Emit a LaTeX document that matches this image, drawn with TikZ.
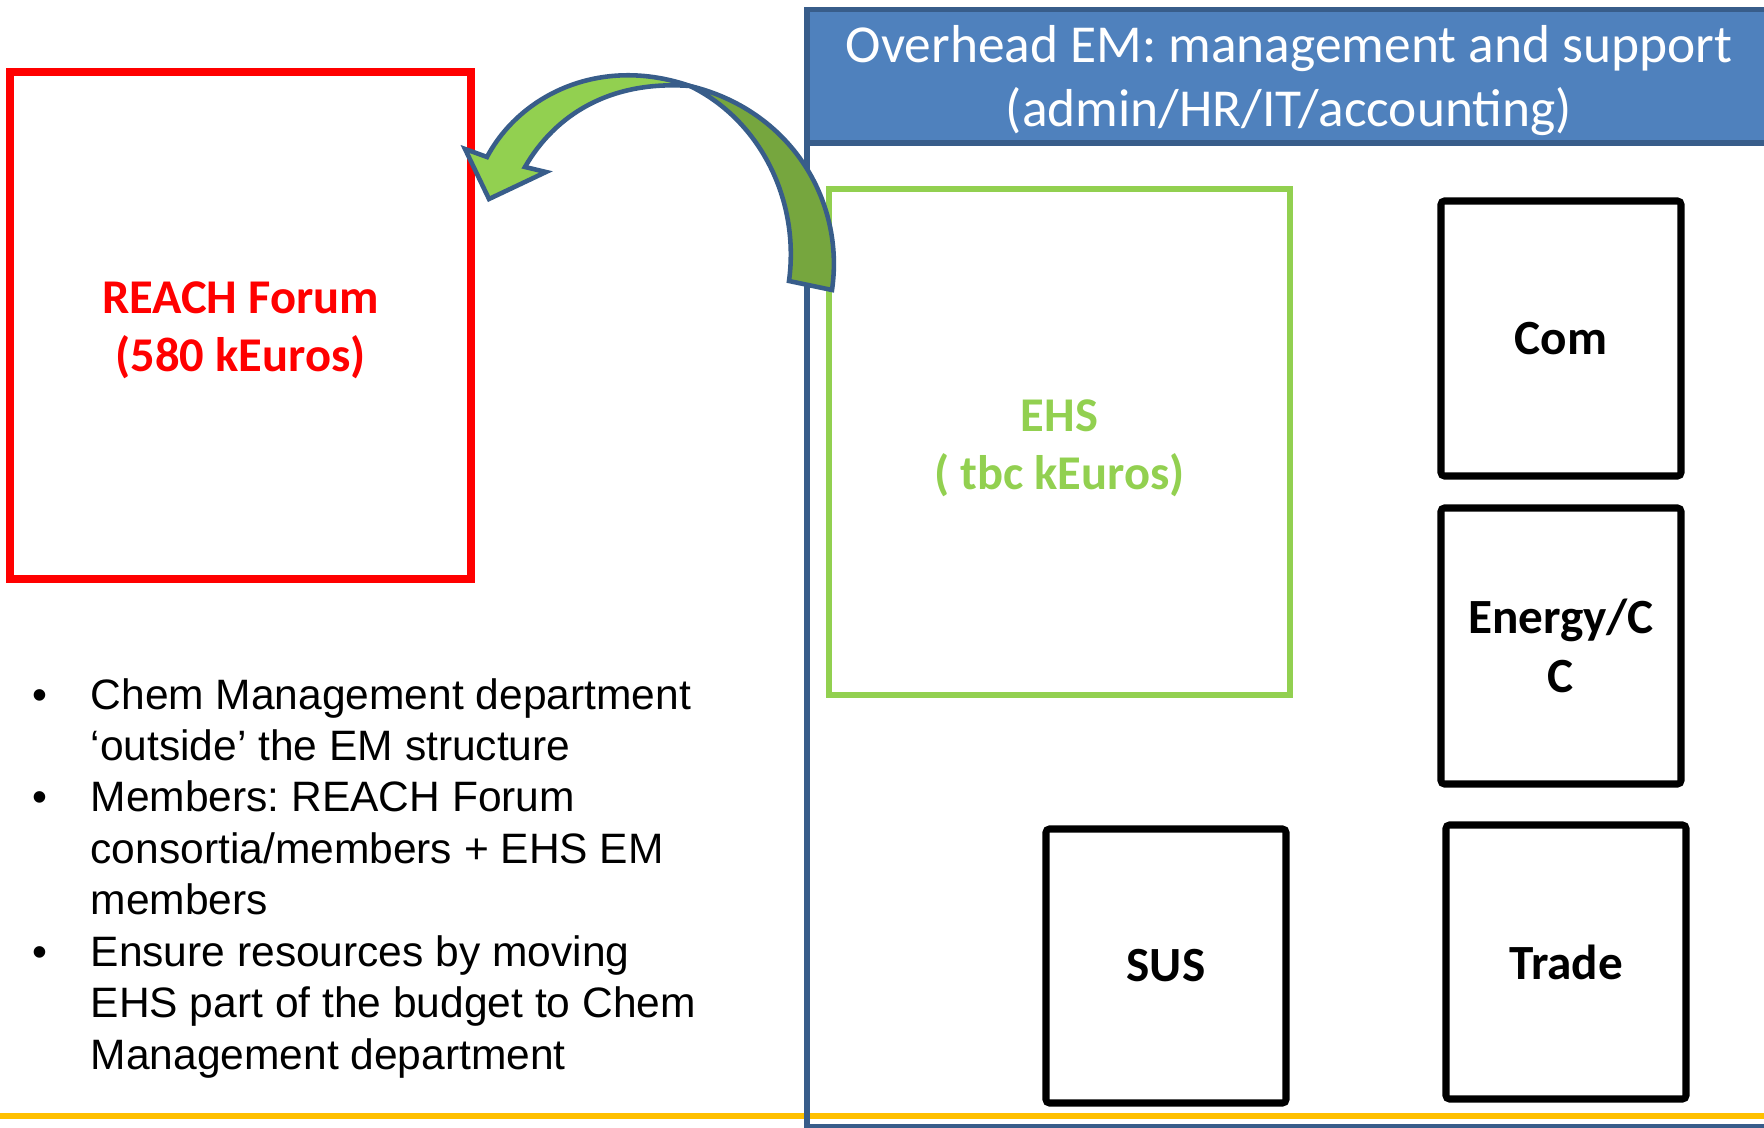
\documentclass[tikz,border=0pt]{standalone}
\usepackage{fontspec}
\setmainfont{Carlito}
\newfontfamily\arialfont{Liberation Sans}
\usetikzlibrary{positioning}

\definecolor{hdrblue}{HTML}{4F81BD}
\definecolor{hdredge}{HTML}{385D8A}
\definecolor{ehsgreen}{HTML}{92D050}
\definecolor{leafdark}{RGB}{118,166,62}
\definecolor{barline}{HTML}{FFC000}

\begin{document}
\begin{tikzpicture}[x=0.1mm,y=-0.1mm,
  unit/.style={draw=black, line width=2pt, rounded corners=1pt, minimum width=24mm,
    minimum height=27.5mm, align=center, font=\fontsize{14}{16.6}\selectfont\bfseries},
  bigbox/.style={line width=2pt, minimum width=46.1mm, minimum height=50.7mm},
  boxtext/.style={align=center, font=\fontsize{13.8}{16.4}\selectfont\bfseries},
  leaf/.style={draw=hdredge, line width=1.3pt}]
\useasboundingbox (0,0) rectangle (1764,1128);

\draw[barline, line width=1.7pt] (0,1116) -- (1764,1116);

\node[draw=hdredge, line width=1.7pt, minimum width=96.4mm, minimum height=111.75mm] (em) at (1289,568.25) {};
\node[draw=hdredge, fill=hdrblue, line width=1.7pt, minimum width=96.4mm, minimum height=13.35mm,
  anchor=north] (overhead) at (em.north) {};
\node[text=white, align=center, font=\fontsize{15.2}{18.3}\selectfont] (overheadtext)
  at ([yshift=-0.4mm]overhead.center) {Overhead EM: management and support\\(admin/HR/IT/accounting)};

\node[bigbox, draw=red] (reach) at (240.5,325.5) {};
\node[boxtext, text=red] (reachtext) at ([yshift=-0.5mm]reach.center) {REACH Forum\\(580 kEuros)};
\node[bigbox, draw=ehsgreen, line width=1.7pt, minimum height=50.6mm] (ehs) at (1059.5,442) {};
\node[boxtext, text=ehsgreen] (ehstext) at ([yshift=-0.6mm]ehs.center) {EHS\\( tbc kEuros)};

\node[unit] (com) at (1561,338.5) {Com};
\node[unit, minimum height=27.6mm] (energy) at (1561,646) {Energy/C\\C};
\node[unit, minimum height=27.4mm] (sus) at (1166,966) {SUS};
\node[unit, minimum height=27.4mm] (trade) at (1566,962) {Trade};

\node[anchor=base west, inner sep=0pt, font=\arialfont\fontsize{12.1}{14.65}\selectfont\frenchspacing] (notes) at (32,709)
  {\begin{tabular}[t]{@{}p{5.8mm}@{}l@{}}
  • & Chem Management department\\
    & ‘outside’ the EM structure\\
  • & Members: REACH Forum\\
    & consortia/members + EHS EM\\
    & members\\
  • & Ensure resources by moving\\
    & EHS part of the budget to Chem\\
    & Management department
  \end{tabular}};

\draw[leaf, fill=leafdark] (690,86) .. controls (790,110) and (845,200) .. (832,290)
  -- (789,281) .. controls (800,200) and (760,120) .. (690,86) -- cycle;
\draw[leaf, fill=ehsgreen] (465,149) -- (487,157) .. controls (520,95) and (600,55) .. (690,86)
  .. controls (610,80) and (555,115) .. (525,167) -- (546,172) -- (489,199) -- cycle;
\end{tikzpicture}
\end{document}
